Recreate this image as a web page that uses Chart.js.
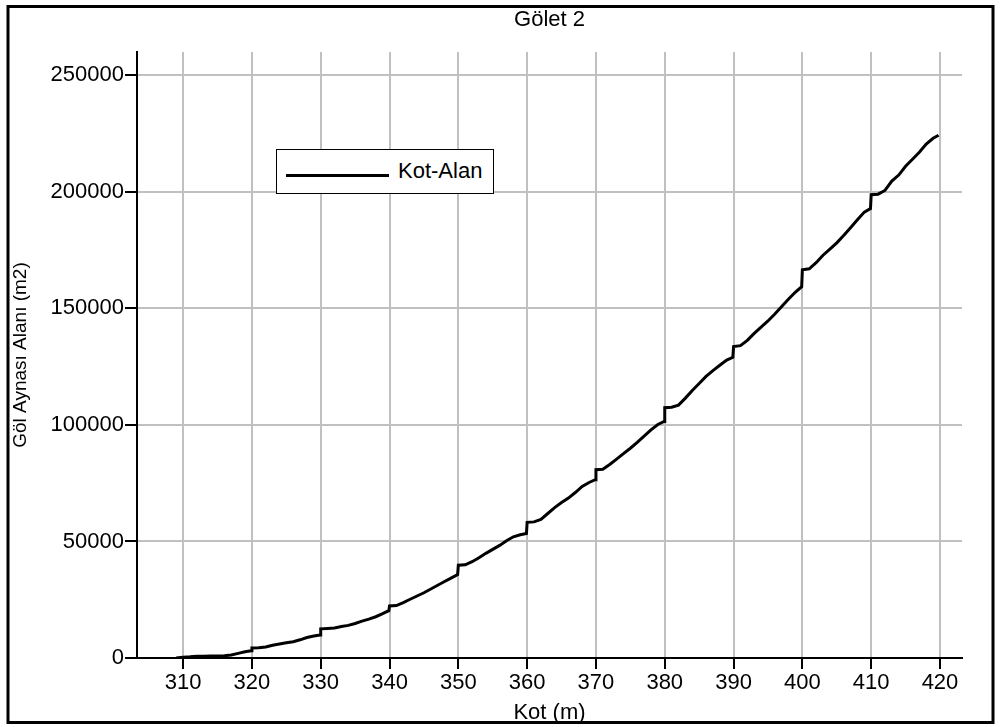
<!DOCTYPE html>
<html>
<head>
<meta charset="utf-8">
<title>Gölet 2</title>
<script src="https://cdn.jsdelivr.net/npm/chart.js@4.4.1/dist/chart.umd.min.js"></script>
<style>
  html, body { margin: 0; padding: 0; background: #fff; }
  #wrap { position: relative; width: 1001px; height: 727px; }
  #chart { position: absolute; left: 0; top: 0; }
  #legend {
    position: absolute; left: 276px; top: 149px; width: 216px; height: 43px;
    border: 1px solid #000; background: #fff;
    font-family: "Liberation Sans", Arial, sans-serif; font-size: 22px; color: #000;
  }
  #legend .sample { position: absolute; left: 9px; top: 24px; width: 103px; height: 0; border-top: 3px solid #000; }
  #legend .label { position: absolute; left: 121px; top: 8px; line-height: 26px; white-space: nowrap; }
</style>
</head>
<body>
<div id="wrap">
  <canvas id="chart" width="1001" height="727"></canvas>
  <div id="legend"></div>
</div>
<script>
// Water surface elevation (m) and lake surface area (m2)
const kot = [
  309, 310, 311, 312, 313, 314, 315, 316, 317, 318, 319, 319.9,
  320, 321, 322, 323, 324, 325, 326, 327, 328, 329, 329.9,
  330, 331, 332, 333, 334, 335, 336, 337, 338, 339, 339.9,
  340, 341, 342, 343, 344, 345, 346, 347, 348, 349, 349.9,
  350, 351, 352, 353, 354, 355, 356, 357, 358, 359, 359.9,
  360, 361, 362, 363, 364, 365, 366, 367, 368, 369, 369.9,
  370, 371, 372, 373, 374, 375, 376, 377, 378, 379, 379.9,
  380, 381, 382, 383, 384, 385, 386, 387, 388, 389, 389.9,
  390, 391, 392, 393, 394, 395, 396, 397, 398, 399, 399.9,
  400, 401, 402, 403, 404, 405, 406, 407, 408, 409, 409.9,
  410, 411, 412, 413, 414, 415, 416, 417, 418, 419, 419.8
];
const alan = [
  0, 300, 500, 800, 800, 900, 900, 1000, 1300, 2000, 2700, 3100,
  4300, 4400, 4700, 5500, 6000, 6500, 7000, 7800, 8800, 9400, 9900,
  12500, 12700, 12900, 13500, 14000, 14800, 15800, 16700, 17700, 19000, 20300,
  22300, 22500, 23800, 25200, 26600, 28000, 29600, 31200, 32800, 34400, 35800,
  39800, 40000, 41300, 43000, 44900, 46600, 48300, 50300, 52000, 52900, 53400,
  58200, 58400, 59500, 62000, 64500, 66700, 68600, 71000, 73600, 75300, 76500,
  80800, 81000, 83000, 85300, 87700, 90000, 92500, 95200, 97900, 100200, 101500,
  107400, 107600, 108500, 111500, 114800, 117800, 120800, 123300, 125600, 127800, 129000,
  133600, 134000, 136300, 139300, 142000, 144600, 147600, 150800, 154000, 157000, 159300,
  166600, 167000, 169600, 172800, 175400, 178100, 181300, 184600, 188000, 191300, 192800,
  198800, 199000, 200600, 204600, 207200, 211000, 214000, 217000, 220500, 223000, 224300
];

// Axis tick values
const kotTicks = [310, 320, 330, 340, 350, 360, 370, 380, 390, 400, 410, 420];
const alanTicks = [0, 50000, 100000, 150000, 200000, 250000];

const FONT = '"Liberation Sans", Arial, sans-serif';
const points = kot.map((k, i) => ({ x: k, y: alan[i] }));

// Outer frame around the whole figure
const framePlugin = {
  id: 'frame',
  afterDraw(chart) {
    const ctx = chart.ctx;
    ctx.save();
    ctx.strokeStyle = '#000';
    ctx.lineWidth = 3;
    ctx.strokeRect(8, 6.5, 985, 716);
    ctx.restore();
  }
};

// Center the chart title over the plotting area rather than the whole canvas
const centerTitlePlugin = {
  id: 'centerTitle',
  afterLayout(chart) {
    const t = chart.titleBlock;
    const ca = chart.chartArea;
    if (!t || !ca) return;
    const half = (t.right - t.left) / 2;
    const mid = (ca.left + ca.right) / 2;
    t.left = mid - half;
    t.right = mid + half;
  }
};

const chart = new Chart(document.getElementById('chart'), {
  type: 'line',
  data: {
    datasets: [{
      label: 'Kot-Alan',
      data: points,
      borderColor: '#000',
      backgroundColor: '#000',
      borderWidth: 3,
      pointRadius: 0,
      tension: 0,
      fill: false
    }]
  },
  options: {
    responsive: false,
    animation: false,
    layout: { padding: { left: 0, right: 39, top: 0, bottom: 0 } },
    plugins: {
      legend: { display: false },
      tooltip: { enabled: false },
      title: {
        display: true,
        text: 'Gölet 2',
        color: '#000',
        font: { family: FONT, size: 22, weight: 'normal' },
        padding: { top: 7, bottom: 18.6 }
      }
    },
    scales: {
      x: {
        type: 'linear',
        min: 303.3,
        max: 423.2,
        afterBuildTicks(scale) { scale.ticks = kotTicks.map(v => ({ value: v })); },
        afterFit(scale) { scale.height = 69; },
        border: { color: '#000', width: 2 },
        grid: { color: '#c0c0c0', lineWidth: 2, tickColor: '#000', tickWidth: 2, tickLength: 11 },
        ticks: {
          color: '#000', padding: 1, maxRotation: 0, autoSkip: false,
          font: { family: FONT, size: 22 },
          callback: v => String(v)
        },
        title: {
          display: true, text: 'Kot (m)', color: '#000',
          font: { family: FONT, size: 22 },
          padding: { top: 0, bottom: 1 }
        }
      },
      y: {
        type: 'linear',
        min: 0,
        max: 260000,
        afterBuildTicks(scale) { scale.ticks = alanTicks.map(v => ({ value: v })); },
        afterFit(scale) { scale.width = 137; },
        border: { color: '#000', width: 2 },
        grid: { color: '#c0c0c0', lineWidth: 2, tickColor: '#000', tickWidth: 2, tickLength: 12 },
        ticks: {
          color: '#000', padding: 1, autoSkip: false,
          font: { family: FONT, size: 22 },
          callback: v => String(v)
        },
        title: {
          display: true, text: 'Göl Aynası Alanı (m2)', color: '#000',
          font: { family: FONT, size: 19 },
          padding: { top: 9.6, bottom: 0 }
        }
      }
    }
  },
  plugins: [framePlugin, centerTitlePlugin]
});

// Legend box built from the dataset
const legend = document.getElementById('legend');
chart.data.datasets.forEach(ds => {
  const sample = document.createElement('span');
  sample.className = 'sample';
  sample.style.borderTopColor = ds.borderColor;
  const label = document.createElement('span');
  label.className = 'label';
  label.textContent = ds.label;
  legend.appendChild(sample);
  legend.appendChild(label);
});
</script>
</body>
</html>
